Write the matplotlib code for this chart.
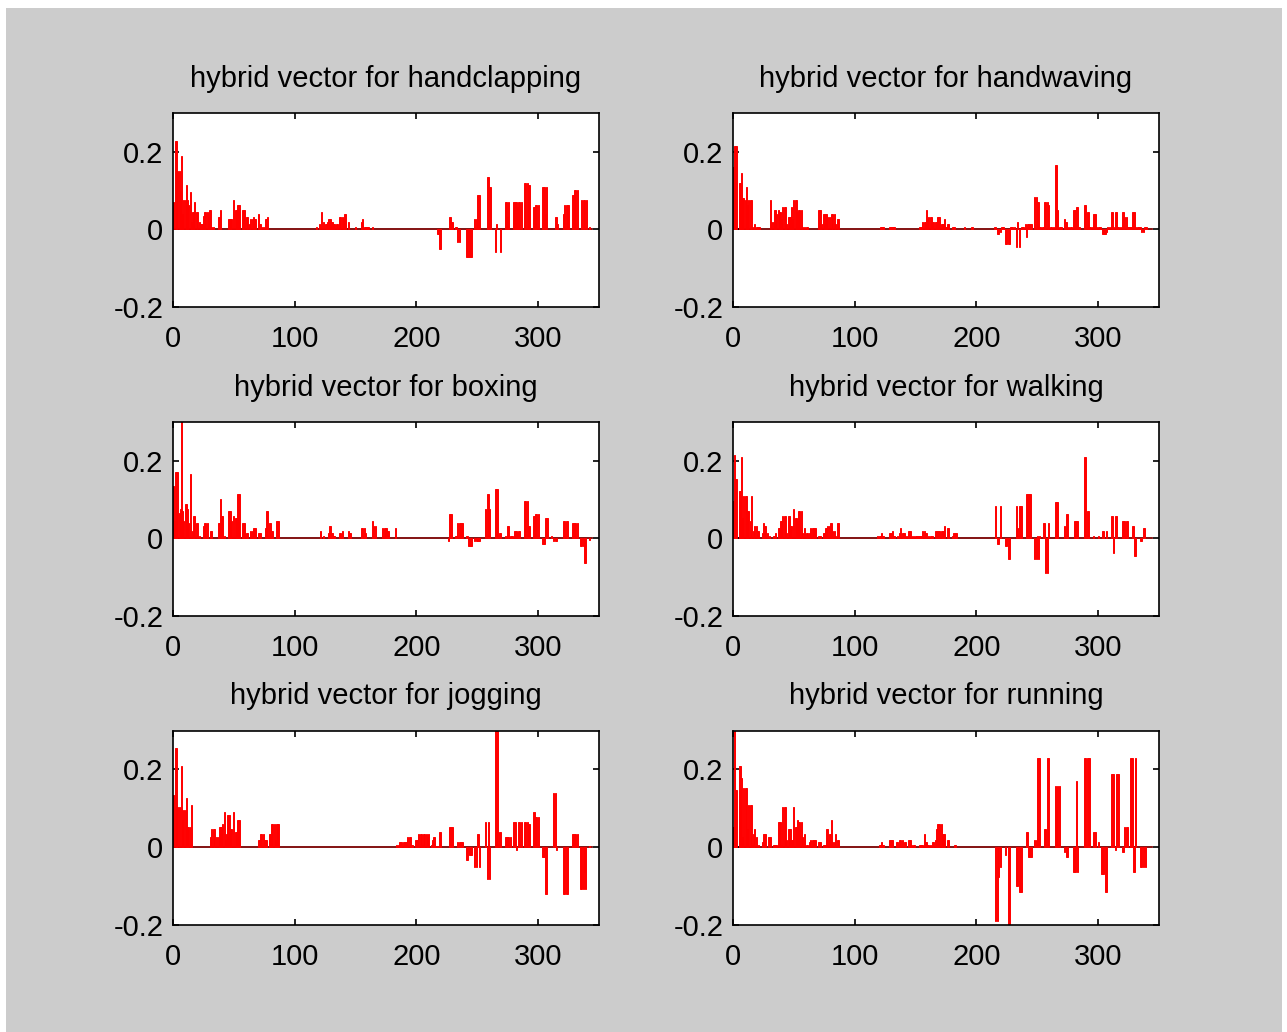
import matplotlib
matplotlib.use("Agg")
import matplotlib.pyplot as plt
from matplotlib.patches import Rectangle

plt.rcParams["font.family"] = ["Liberation Sans", "DejaVu Sans"]
plt.rcParams["axes.unicode_minus"] = False

# (bin, value) pairs of the hybrid feature vector for each action class
handclapping = [
    (0, .07), (2, .227), (3, .227), (4, .15), (5, .15), (6, .10), (7, .19), (8, .04), (9, .076), (10, .076),
    (11, .114), (12, .076), (13, .064), (14, .097), (15, .02), (16, .045), (17, .045), (18, .07), (19, .045),
    (20, .045), (22, .02), (23, .014), (24, .014), (25, .035), (26, .045), (27, .045), (28, .045), (29, .032),
    (30, .05), (31, .05), (32, .007), (33, .007), (37, .032), (38, .032), (39, .05), (46, .026), (47, .026),
    (48, .026), (50, .076), (51, .05), (52, .05), (53, .064), (54, .064), (55, .064), (57, .05), (58, .05),
    (59, .05), (60, .032), (61, .032), (63, .014), (64, .026), (65, .026), (66, .032), (67, .026), (68, .026),
    (70, .04), (71, .014), (72, .014), (73, .007), (74, .007), (76, .026), (77, .026), (78, .032),
    (118, .007), (120, .014), (122, .045), (124, .02), (125, .014), (126, .014), (127, .02), (128, .026),
    (129, .026), (130, .02), (131, .02), (132, .014), (133, .014), (134, .014), (135, .014), (137, .032),
    (138, .032), (139, .032), (140, .026), (141, .04), (142, .04), (144, .02), (150, .007), (155, .02),
    (156, .026), (157, .007), (158, .007), (159, .007), (160, .007), (161, .007), (164, .007),
    (217, -.013), (218, -.013), (219, -.05), (220, -.05), (227, .032), (228, .032), (229, .02), (230, .02),
    (232, .007), (233, .007), (234, -.032), (235, -.032), (241, -.07), (242, -.07), (243, -.07), (244, -.07),
    (245, -.07), (248, .026), (249, .026), (250, .089), (251, .089), (252, .089), (258, .134), (259, .134),
    (260, .108), (261, .108), (265, -.057), (266, .014), (269, -.057), (273, .07), (274, .07), (275, .032),
    (276, .07), (280, .07), (281, .07), (282, .07), (283, .058), (284, .07), (285, .07), (286, .07),
    (289, .12), (290, .12), (291, .12), (292, .115), (293, .115), (296, .058), (297, .058), (298, .064),
    (299, .064), (300, .064), (304, .109), (305, .109), (306, .04), (307, .109), (314, .032), (315, .032),
    (316, .014), (321, .04), (322, .064), (323, .064), (324, .064), (325, .064), (328, .089), (329, .089),
    (330, .102), (331, .102), (332, .102), (336, .076), (337, .076), (338, .076), (340, .076), (342, .007),
]

handwaving = [
    (0, .16), (1, .215), (2, .215), (3, .215), (5, .12), (6, .12), (7, .145), (8, .082), (9, .082), (10, .076),
    (11, .108), (12, .064), (13, .076), (14, .076), (15, .076), (17, .007), (18, .014), (19, .007), (20, .007),
    (21, .007), (22, .007), (31, .076), (32, .02), (33, .02), (34, .05), (35, .05), (36, .04), (37, .05),
    (38, .045), (39, .045), (40, .026), (41, .058), (42, .058), (43, .058), (44, .014), (46, .032), (47, .032),
    (48, .058), (49, .026), (50, .076), (51, .076), (52, .076), (53, .045), (54, .05), (55, .05), (56, .05),
    (57, .007), (59, .007), (60, .007), (61, .007), (70, .05), (71, .05), (72, .05), (73, .014), (74, .04),
    (75, .04), (76, .04), (77, .04), (78, .032), (79, .032), (81, .04), (82, .04), (83, .04), (84, .014),
    (86, .026), (87, .026),
    (121, .007), (122, .007), (123, .007), (124, .007), (129, .007), (130, .007), (131, .007), (132, .007),
    (133, .007), (153, .007), (154, .007), (155, .007), (156, .02), (157, .02), (158, .02), (159, .05),
    (160, .026), (161, .032), (162, .032), (163, .032), (164, .02), (165, .02), (166, .02), (167, .02),
    (168, .032), (169, .032), (170, .032), (171, .014), (172, .014), (173, .014), (174, .026), (175, .007),
    (176, .014), (177, .014), (180, .007), (181, .007), (182, .007), (190, .007), (196, .007), (197, .007),
    (215, .007), (216, .007), (217, -.012), (218, -.012), (220, -.006), (221, .007), (222, .007),
    (224, -.038), (225, -.038), (226, -.038), (227, -.038), (228, .007), (229, .007), (230, .007), (231, .007),
    (233, -.045), (234, .02), (235, -.045), (237, .007), (238, .007), (239, .007), (240, .014), (241, -.019),
    (242, .014), (243, .014), (244, .014), (245, .014), (248, .083), (249, .083), (250, .07), (251, .07),
    (252, .007), (253, .007), (254, .007), (255, .007), (256, .07), (257, .07), (258, .07), (259, .064),
    (261, .007), (262, .007), (263, .007), (265, .165), (266, .165), (267, .05), (268, .007), (269, .007),
    (270, .007), (272, .026), (273, .02), (274, .02), (276, .007), (277, .007), (278, .007), (280, .05),
    (281, .05), (282, .058), (283, .058), (284, .007), (285, .007), (289, .064), (290, .064), (291, .045),
    (292, .045), (293, .007), (294, .007), (295, .007), (296, .04), (297, .04), (298, .04), (299, .007),
    (300, .007), (301, .007), (302, .007), (304, -.012), (305, -.012), (306, -.012), (307, -.006), (308, .007),
    (309, .007), (311, .045), (312, .045), (313, .007), (314, .045), (315, .045), (316, .007), (317, .007),
    (318, .007), (320, .045), (321, .045), (322, .032), (323, .032), (324, .007), (325, .007), (326, .007),
    (327, .007), (328, .045), (329, .045), (330, .045), (331, .007), (332, .007), (333, .007), (334, .007),
    (335, .007), (336, -.006), (337, -.006), (338, .007), (339, .007), (340, .007),
]

boxing = [
    (0, .134), (1, .045), (2, .172), (3, .172), (4, .172), (5, .065), (6, .077), (7, .31), (8, .07), (9, .045),
    (10, .089), (11, .089), (12, .077), (13, .039), (14, .166), (16, .02), (17, .058), (18, .058), (19, .039),
    (20, .039), (22, .007), (25, .033), (26, .039), (27, .039), (28, .039), (31, .02), (32, .02), (37, .039),
    (38, .039), (39, .102), (40, .058), (41, .058), (42, .007), (46, .07), (47, .07), (48, .045), (50, .058),
    (51, .052), (52, .052), (53, .115), (54, .115), (55, .115), (57, .039), (58, .039), (59, .039), (60, .014),
    (61, .014), (64, .02), (65, .02), (66, .026), (67, .026), (68, .026), (70, .014), (71, .014), (72, .014),
    (76, .026), (77, .07), (78, .07), (79, .039), (80, .039), (81, .02), (82, .02), (85, .045), (86, .045),
    (87, .045),
    (121, .02), (124, .007), (128, .014), (129, .033), (130, .014), (131, .014), (132, .007), (133, .007),
    (137, .014), (138, .014), (139, .02), (144, .02), (145, .014), (146, .014), (155, .026), (156, .026),
    (157, .026), (158, .014), (164, .045), (165, .033), (166, .033), (172, .026), (174, .026), (175, .026),
    (176, .02), (177, .02), (183, .026), (226, -.007), (227, .063), (228, .063), (229, .063), (232, .007),
    (233, .007), (234, .039), (235, .039), (236, .039), (237, .039), (238, .039), (241, .007), (242, .007),
    (243, -.02), (244, -.02), (245, -.02), (248, -.007), (249, -.007), (250, -.007), (251, -.007),
    (252, -.007), (257, .076), (258, .115), (259, .115), (260, .076), (265, .128), (266, .128), (267, .128),
    (268, .014), (269, .014), (273, .007), (275, .033), (276, .033), (277, .007), (278, .007), (279, .007),
    (281, .02), (282, .02), (283, .014), (284, .02), (285, .02), (289, .096), (290, .096), (291, .096),
    (292, .033), (293, .033), (296, .058), (297, .058), (298, .063), (299, .063), (300, .063), (304, -.014),
    (305, -.014), (306, .052), (307, .052), (308, .052), (311, .007), (313, -.007), (314, -.007),
    (315, -.007), (321, .045), (322, .045), (323, .045), (324, .045), (328, .039), (329, .039), (330, .039),
    (331, .039), (332, .039), (335, -.02), (336, -.02), (337, -.02), (338, -.064), (339, -.064), (342, -.004),
]

walking = [
    (0, .096), (1, .215), (2, .153), (3, .153), (5, .121), (6, .121), (7, .209), (8, .052), (9, .109),
    (10, .109), (11, .109), (12, .07), (13, .07), (14, .045), (15, .109), (17, .02), (18, .033), (19, .033),
    (20, .02), (21, .02), (24, .014), (25, .039), (26, .033), (27, .033), (28, .014), (30, .007), (33, .007),
    (34, .007), (35, .014), (37, .026), (38, .026), (39, .045), (40, .045), (41, .058), (42, .058), (43, .058),
    (44, .014), (46, .058), (47, .033), (48, .033), (50, .076), (51, .052), (52, .052), (53, .045), (54, .07),
    (55, .07), (56, .07), (57, .014), (59, .026), (60, .014), (61, .014), (63, .014), (64, .026), (65, .026),
    (66, .026), (67, .026), (68, .026), (70, .007), (71, .007), (72, .007), (74, .014), (75, .014), (76, .026),
    (77, .026), (78, .033), (79, .033), (80, .039), (81, .039), (82, .02), (83, .02), (84, .007), (86, .039),
    (87, .039),
    (119, .007), (120, .007), (121, .007), (122, .014), (123, .007), (124, .007), (129, .014), (130, .014),
    (131, .02), (132, .007), (133, .007), (135, .007), (137, .014), (138, .026), (139, .014), (140, .014),
    (141, .014), (142, .007), (143, .007), (144, .02), (145, .02), (146, .02), (147, .007), (148, .007),
    (150, .007), (151, .007), (152, .007), (153, .007), (154, .007), (155, .007), (156, .02), (157, .02),
    (158, .014), (159, .014), (161, .007), (162, .007), (163, .007), (164, .007), (166, .02), (167, .02),
    (168, .02), (169, .02), (170, .02), (171, .02), (172, .02), (173, .02), (174, .033), (176, .026),
    (177, .026), (180, .007), (181, .014), (182, .014), (183, .014), (184, .014),
    (216, .083), (217, -.014), (218, -.014), (220, .083), (224, -.02), (225, -.02), (226, -.052),
    (227, -.052), (233, .083), (234, .026), (235, .083), (236, .083), (237, .083), (241, .115), (242, .115),
    (243, .115), (244, .115), (248, -.052), (249, -.052), (250, .007), (251, -.052), (252, .007),
    (255, .039), (256, .039), (257, -.089), (258, -.089), (259, .039), (265, .095), (266, .095), (267, .095),
    (272, .033), (274, .063), (275, .063), (281, .045), (282, .045), (283, .045), (289, .209), (290, .209),
    (291, .07), (292, .07), (296, .007), (300, .007), (304, .02), (307, .02), (311, .058), (312, .058),
    (313, -.038), (314, .058), (315, .058), (320, .045), (321, .045), (322, .045), (323, .045), (324, .045),
    (328, .033), (329, .033), (330, -.045), (331, -.045), (335, -.007), (336, -.007), (337, .026), (338, .026),
]

jogging = [
    (0, .134), (2, .254), (3, .254), (4, .102), (5, .102), (7, .209), (8, .07), (9, .095), (10, .095),
    (11, .127), (12, .051), (13, .051), (14, .051), (15, .108), (31, .025), (32, .045), (33, .045), (34, .045),
    (36, .025), (37, .025), (38, .051), (39, .051), (40, .051), (41, .058), (42, .089), (43, .019), (44, .032),
    (45, .083), (46, .083), (47, .045), (48, .045), (50, .089), (51, .038), (52, .038), (53, .07), (54, .07),
    (55, .07), (70, .019), (71, .019), (72, .032), (73, .032), (74, .032), (75, .019), (76, .019), (77, .019),
    (79, .032), (80, .032), (81, .058), (82, .058), (83, .058), (84, .019), (85, .058), (86, .058), (87, .058),
    (184, .006), (185, .006), (186, .013), (187, .013), (188, .013), (189, .013), (190, .013), (191, .013),
    (192, .013), (193, .026), (194, .026), (195, .026), (196, .006), (197, .006), (199, .019), (200, .019),
    (201, .019), (202, .032), (203, .032), (204, .032), (205, .006), (206, .032), (207, .032), (208, .032),
    (209, .026), (210, .032), (212, .006), (213, .019), (214, .026), (215, .026), (216, .003), (217, .003),
    (219, .039), (220, .039), (227, .051), (228, .051), (229, .051), (230, .051), (234, .013), (235, .013),
    (236, .013), (237, .013), (238, .013), (241, -.033), (242, -.033), (244, -.02), (245, -.02), (248, -.051),
    (249, -.051), (250, .032), (251, .032), (252, -.051), (257, .064), (258, -.083), (259, .064),
    (260, -.083), (265, .31), (266, .31), (267, .31), (268, .039), (269, .039), (273, .026), (274, .026),
    (275, .026), (276, .026), (277, .026), (280, .064), (281, .064), (282, -.007), (284, .064), (285, .064),
    (286, .064), (289, .064), (290, .064), (291, .064), (292, .058), (293, .058), (296, .089), (297, .089),
    (298, .077), (299, .077), (300, .077), (304, -.026), (305, -.026), (306, -.121), (307, -.121),
    (313, .14), (314, .14), (315, -.007), (321, -.121), (322, -.121), (323, -.121), (324, -.121), (328, .032),
    (329, .032), (330, .032), (331, .032), (332, .032), (335, -.108), (336, -.108), (337, -.108),
    (338, -.064), (339, -.108), (342, .003),
]

running = [
    (0, .051), (1, .31), (2, .146), (3, .146), (5, .209), (6, .209), (7, .177), (8, .025), (9, .153),
    (10, .153), (11, .153), (12, .045), (13, .108), (14, .108), (15, .108), (16, .006), (17, .032), (18, .045),
    (19, .025), (21, .006), (24, .013), (25, .032), (26, .032), (27, .032), (29, .026), (30, .026), (31, .026),
    (33, .006), (34, .006), (35, .006), (36, .006), (37, .064), (38, .064), (39, .064), (40, .006), (41, .102),
    (42, .102), (43, .102), (44, .019), (46, .045), (47, .045), (48, .019), (49, .019), (50, .102), (51, .051),
    (52, .051), (53, .07), (54, .064), (55, .064), (56, .064), (57, .026), (59, .032), (60, .006), (61, .006),
    (63, .013), (64, .019), (65, .019), (66, .019), (67, .019), (68, .019), (70, .013), (71, .013), (72, .013),
    (74, .006), (75, .006), (76, .006), (77, .045), (78, .045), (79, .032), (80, .032), (81, .07), (82, .013),
    (83, .013), (84, .032), (86, .019), (87, .019),
    (120, .006), (121, .006), (122, .013), (123, .006), (124, .006), (129, .019), (130, .019), (131, .019),
    (134, .013), (135, .013), (137, .019), (138, .019), (139, .019), (141, .013), (142, .013), (144, .019),
    (145, .019), (146, .019), (147, .006), (148, .006), (149, .006), (153, .006), (154, .006), (155, .006),
    (156, .006), (157, .032), (158, .013), (159, .013), (160, .006), (161, .006), (162, .006), (164, .013),
    (165, .013), (166, .019), (167, .045), (168, .058), (169, .058), (170, .058), (171, .058), (172, .032),
    (173, .032), (174, .032), (176, .019), (177, .019), (182, .006), (183, .006),
    (216, -.191), (217, -.191), (218, -.077), (220, -.052), (224, -.02), (226, -.198), (227, -.198),
    (233, -.102), (234, -.102), (235, -.115), (236, -.115), (237, -.115), (241, .039), (242, .039),
    (243, -.026), (244, -.026), (245, -.026), (248, .019), (249, .019), (250, .228), (251, .228), (252, .228),
    (256, .045), (257, .045), (258, .228), (259, .228), (265, .158), (266, .095), (267, .158), (268, .158),
    (272, -.013), (274, -.026), (275, -.026), (280, -.064), (281, -.064), (282, .171), (283, -.064),
    (289, .228), (290, .228), (291, .228), (292, .228), (293, .228), (296, .039), (297, .039), (298, .039),
    (300, .013), (303, -.07), (304, -.07), (306, -.115), (307, -.115), (311, .188), (312, .188), (313, .188),
    (314, -.007), (315, .188), (316, .188), (317, .188), (320, -.013), (321, -.013), (322, .051), (323, .051),
    (324, .051), (327, .228), (328, .228), (329, -.064), (330, -.064), (331, .228), (335, -.051),
    (336, -.051), (337, -.051), (338, -.013), (339, -.051),
]

titles = [
    "hybrid vector for handclapping", "hybrid vector for handwaving",
    "hybrid vector for boxing", "hybrid vector for walking",
    "hybrid vector for jogging", "hybrid vector for running",
]
series = [handclapping, handwaving, boxing, walking, jogging, running]
n_bins = 344
x_ticks = [0, 100, 200, 300]
y_ticks = [-0.2, 0, 0.2]
y_tick_labels = ["-0.2", "0", "0.2"]

W, H = 1287, 1032
fig = plt.figure(figsize=(W / 100, H / 100), dpi=100, facecolor="white")
fig.patches.append(Rectangle((6 / W, 0), (1282 - 6) / W, (H - 8) / H,
                             transform=fig.transFigure, facecolor="#cccccc",
                             edgecolor="none", zorder=-10))

col_x = [173 / W, 733 / W]
row_bottom = [307, 616, 924.5]
ax_w = 426 / W
ax_h = 194 / H

for k, (title, data) in enumerate(zip(titles, series)):
    r, c = divmod(k, 2)
    ax = fig.add_axes([col_x[c], 1 - row_bottom[r] / H, ax_w, ax_h])
    ax.set_facecolor("white")
    pos = [p for p, v in data]
    val = [v for p, v in data]
    ax.plot([0, n_bins], [0, 0], color="#7a0000", lw=1.3, zorder=1)
    ax.bar(pos, val, width=0.85, color="#ff0000", edgecolor="#ff0000",
           linewidth=0.7, zorder=2)
    ax.set_xlim(0, 350)
    ax.set_ylim(-0.2, 0.3)
    ax.set_xticks(x_ticks)
    ax.set_yticks(y_ticks)
    ax.set_yticklabels(y_tick_labels)
    ax.tick_params(direction="in", length=4, width=1.2, top=True, right=True,
                   labelsize=21, colors="black")
    ax.tick_params(axis="x", pad=13)
    ax.tick_params(axis="y", pad=7)
    for s in ax.spines.values():
        s.set_linewidth(1.2)
        s.set_color("black")
    ax.set_title(title, fontsize=21, pad=19)

fig.savefig("out.png", dpi=100, facecolor=fig.get_facecolor())
